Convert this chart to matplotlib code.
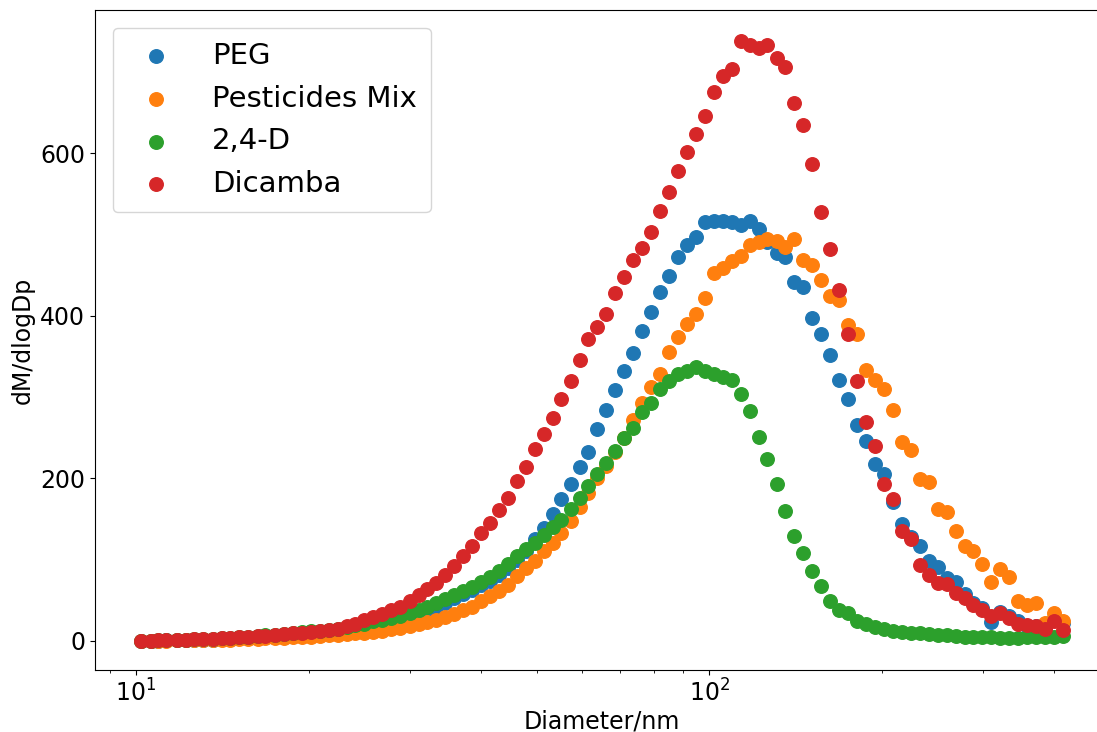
import matplotlib
matplotlib.use("Agg")
import matplotlib.pyplot as plt

# SMPS channel midpoints (nm), 64 channels/decade
diameter = [10.2, 10.6, 10.9, 11.3, 11.8, 12.2, 12.6, 13.1, 13.6, 14.1, 14.6, 15.1, 15.7, 16.3,
            16.8, 17.5, 18.1, 18.8, 19.5, 20.2, 20.9, 21.7, 22.5, 23.3, 24.1, 25.0, 25.9, 26.9,
            27.9, 28.9, 30.0, 31.1, 32.2, 33.4, 34.6, 35.9, 37.2, 38.5, 40.0, 41.4, 42.9, 44.5,
            46.1, 47.8, 49.6, 51.4, 53.3, 55.2, 57.3, 59.4, 61.5, 63.8, 66.1, 68.5, 71.0, 73.7,
            76.4, 79.1, 82.0, 85.1, 88.2, 91.4, 94.7, 98.2, 101.8, 105.5, 109.4, 113.4, 117.6,
            121.9, 126.3, 131.0, 135.8, 140.7, 145.9, 151.2, 156.8, 162.5, 168.5, 174.7, 181.1,
            187.7, 194.6, 201.7, 209.1, 216.7, 224.7, 232.9, 241.4, 250.3, 259.5, 269.0, 278.8,
            289.0, 299.6, 310.6, 322.0, 333.8, 346.0, 358.7, 371.8, 385.4, 399.5, 414.2]

peg = [0, 0, 0, 0.5, 0.5, 1, 1, 1.5, 1.5, 2, 2.5, 3, 3.5, 4, 4.5, 5, 6, 6.5, 7, 8, 9, 10,
       11, 13, 15, 17, 19, 21, 24, 27, 30, 33, 37, 42, 47, 52, 57, 62, 68, 74, 81, 89, 99, 111,
       125, 139, 156, 174, 193, 214, 232, 260, 284, 308, 332, 354, 381, 405, 429, 449, 472, 487,
       497, 515, 517, 517, 515, 511, 516, 507, 490, 477, 472, 441, 435, 397, 377, 351, 321, 298,
       265, 246, 218, 205, 171, 144, 128, 116, 98, 91, 77, 72, 57, 46, 40, 23, 35, 30, 24, 18,
       18, 14, 28, 22]

pesticides = [0, 0, 0, 0, 0.5, 0.5, 1, 1, 1, 1.5, 1.5, 2, 2, 2.5, 3, 3, 3.5, 4, 4.5, 5, 6, 6.5,
              7, 8, 9, 10, 11, 12, 14, 16, 18, 20, 23, 26, 29, 33, 38, 42, 49, 55, 61, 69, 80, 89,
              98, 110, 120, 133, 147, 164, 182, 200, 215, 232, 250, 272, 293, 312, 328, 355, 374,
              390, 402, 422, 452, 458, 467, 473, 487, 490, 494, 492, 485, 494, 469, 462, 444, 424,
              419, 389, 377, 333, 321, 310, 284, 245, 235, 199, 195, 162, 158, 135, 117, 110, 94,
              72, 88, 79, 49, 44, 46, 22, 34, 24]

d24 = [0, 0, 0.5, 1, 1, 1.5, 2, 2, 2.5, 3, 3.5, 4, 5, 5.5, 6.5, 7.5, 8.5, 9.5, 10.5, 11.5, 12.5,
       13.5, 15, 17, 19, 21, 24, 26, 28.5, 31, 34, 38, 41, 46, 51, 56, 61, 66, 72, 79, 86, 95,
       104, 113, 120, 130, 140, 149, 162, 176, 190, 205, 219, 234, 250, 262, 281, 293, 310, 320,
       328, 332, 337, 332, 328, 325, 321, 304, 283, 251, 224, 193, 160, 129, 108, 86, 67, 49, 38,
       34, 24, 20, 17, 14, 12, 11, 10, 9, 8, 7, 7, 6, 5, 5, 4, 4, 3, 3, 3, 4, 4, 5, 5, 6]

dicamba = [0, 0, 0.5, 1, 1, 1.5, 2, 2, 2.5, 3, 3.5, 4, 5, 5.5, 6, 7, 8, 9, 10, 11, 12, 13,
           14, 18, 21, 25, 29, 33, 38, 42, 49, 56, 64, 71, 81, 92, 104, 117, 132, 145, 161, 176,
           197, 214, 236, 254, 274, 298, 320, 345, 371, 386, 402, 428, 447, 469, 483, 503, 529,
           552, 578, 601, 623, 646, 675, 695, 703, 738, 733, 729, 733, 717, 706, 662, 635, 587,
           527, 482, 431, 378, 320, 269, 239, 193, 175, 135, 125, 93, 81, 71, 70, 59, 53, 44, 38,
           30, 34, 28, 20, 19, 18, 14, 24, 13]

series = [("PEG", peg), ("Pesticides Mix", pesticides), ("2,4-D", d24), ("Dicamba", dicamba)]

fig = plt.figure(figsize=(10.97, 7.32), dpi=100)
# axes run past the right edge, as in the cropped original
ax = fig.add_axes([0.0866, 0.0847, 0.9243, 0.9016])

for name, vals in series:
    ax.scatter(diameter, vals, s=95, label=name)

ax.set_xscale("log")
ax.set_xlim(8.48, 498)
ax.set_ylim(-36, 776)
ax.set_yticks([0, 200, 400, 600])
ax.spines["right"].set_visible(False)
ax.tick_params(labelsize=17)
ax.set_xlabel("Diameter/nm", fontsize=17, labelpad=2)
ax.set_ylabel("dM/dlogDp", fontsize=17)
ax.legend(loc="upper left", fontsize=21, scatterpoints=1, handletextpad=0.9,
          borderpad=0.5, borderaxespad=0.6)

fig.savefig("out.png", dpi=100)
